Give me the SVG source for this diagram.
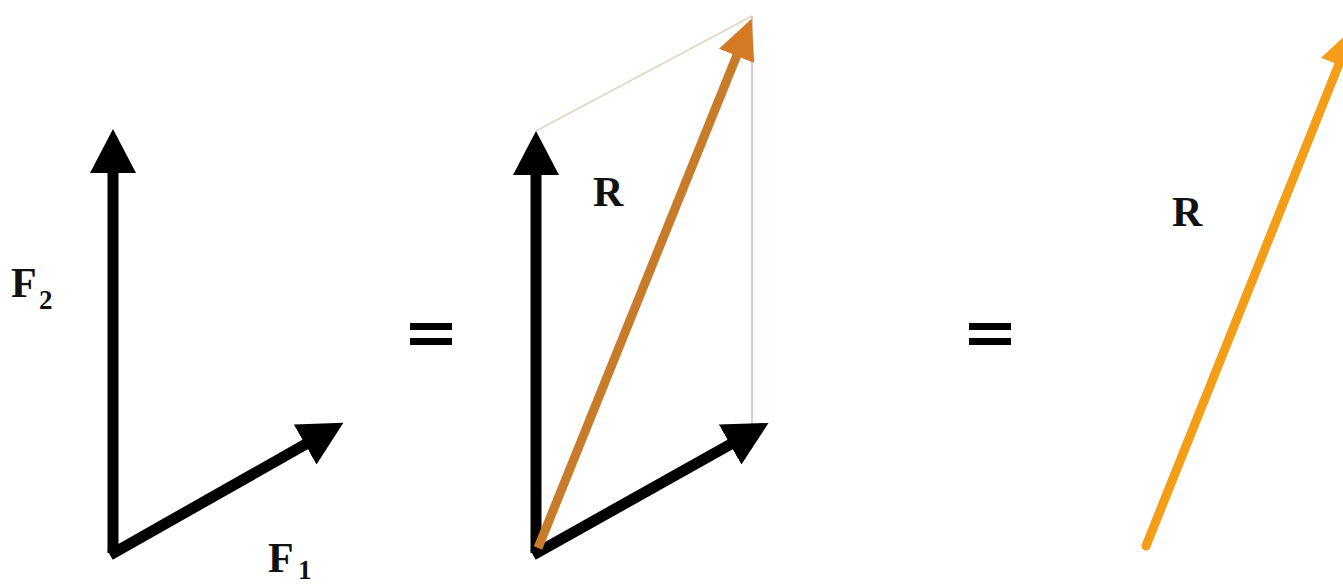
<svg xmlns="http://www.w3.org/2000/svg" width="1343" height="586" viewBox="0 0 1343 586">
<style>
.lbl{font-family:"Liberation Serif","Times New Roman",serif;font-weight:bold;fill:#111}
.big{font-size:42px}
.sub{font-size:27px}
.blk{stroke:#000;stroke-width:11;fill:none}
.org1{stroke:#c97b2c;stroke-width:9;fill:none}
.org2{stroke:#f59d18;stroke-width:9;fill:none;stroke-linecap:round}
.eq{fill:#000}
</style>
<defs>
<marker id="hb" viewBox="0 0 44 46" refX="1" refY="23" markerWidth="44" markerHeight="46" markerUnits="userSpaceOnUse" orient="auto">
<path d="M0,0 L44,23 L0,46 Z" fill="#000"/>
</marker>
<marker id="ho1" viewBox="0 0 40 38" refX="1" refY="19" markerWidth="40" markerHeight="38" markerUnits="userSpaceOnUse" orient="auto">
<path d="M0,0 L40,19 L0,38 Z" fill="#d47a25"/>
</marker>
<marker id="ho2" viewBox="0 0 40 38" refX="1" refY="19" markerWidth="40" markerHeight="38" markerUnits="userSpaceOnUse" orient="auto">
<path d="M0,0 L40,19 L0,38 Z" fill="#f59d18"/>
</marker>
</defs>
<rect width="1343" height="586" fill="#fff"/>
<g id="connectors">
<line x1="536" y1="131" x2="752" y2="16" stroke="#e2d6c2" stroke-width="1.8"/>
<line x1="752" y1="16" x2="752" y2="424" stroke="#d9b4b4" stroke-width="1.5"/>
<line id="left-F2" class="blk" x1="113" y1="553" x2="113" y2="172" marker-end="url(#hb)"/>
<line id="left-F1" class="blk" x1="110" y1="555" x2="306" y2="444" marker-end="url(#hb)"/>
<line id="mid-F2" class="blk" x1="536" y1="553" x2="536" y2="174" marker-end="url(#hb)"/>
<line id="mid-F1" class="blk" x1="533" y1="555" x2="731" y2="444" marker-end="url(#hb)"/>
<line id="mid-R" class="org1" x1="538" y1="548" x2="737" y2="55" marker-end="url(#ho1)"/>
<line id="right-R" class="org2" x1="1146" y1="546" x2="1339" y2="64" marker-end="url(#ho2)"/>
</g>
<g id="label-F2"><text class="lbl big" x="11" y="297">F</text><text class="lbl sub" x="39" y="309">2</text></g>
<g id="label-F1"><text class="lbl big" x="268" y="572">F</text><text class="lbl sub" x="298" y="579">1</text></g>
<g id="label-R-mid"><text class="lbl big" x="593" y="206">R</text></g>
<g id="label-R-right"><text class="lbl big" x="1172" y="226">R</text></g>
<g id="eq1"><rect class="eq" x="410" y="323" width="42" height="7"/><rect class="eq" x="410" y="338" width="42" height="7"/></g>
<g id="eq2"><rect class="eq" x="969" y="323" width="42" height="7"/><rect class="eq" x="969" y="338" width="42" height="7"/></g>
</svg>
